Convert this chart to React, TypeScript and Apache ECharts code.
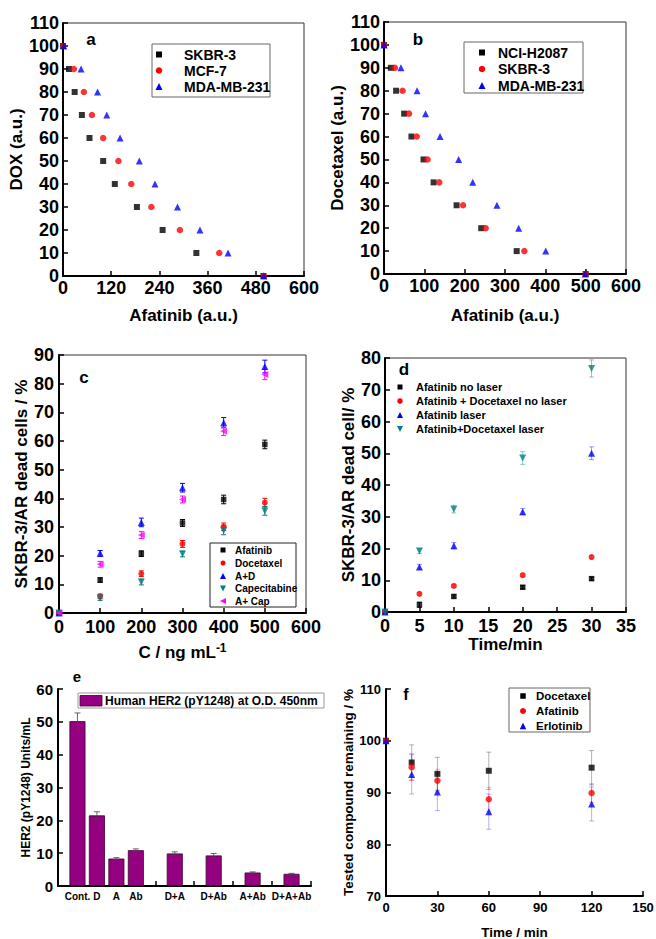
import React, { useEffect, useRef } from 'react';
import * as echarts from 'echarts';

const FONT = '"Liberation Sans", Arial, Helvetica, sans-serif';

// ---------- Panel a ----------
const aDox = [100, 90, 80, 70, 60, 50, 40, 30, 20, 10, 0];
const aSkbr3 = [0, 15, 29, 47, 66, 100, 129, 184, 248, 332, 499];
const aMcf7 = [0, 27, 52, 72, 100, 138, 170, 220, 291, 389, 500];
const aMda231 = [2, 45, 86, 109, 142, 190, 229, 285, 341, 411, 500];
const aXTicks = { min: 0, max: 600, interval: 120 };

// ---------- Panel b ----------
const bDocetaxel = [100, 90, 80, 70, 60, 50, 40, 30, 20, 10, 0];
const bNciH2087 = [0, 17, 30, 50, 68, 98, 123, 180, 241, 329, 500];
const bSkbr3 = [0, 27, 46, 62, 81, 108, 137, 196, 252, 348, 500];
const bMda231 = [0, 42, 82, 103, 139, 185, 220, 280, 334, 401, 499];

// ---------- Panel c ----------
const cConc = [0, 100, 200, 300, 400, 500];
const cAfatinib = [0, 11.5, 20.7, 31.4, 39.6, 58.8];
const cAfatinibErr = [0, 0.8, 1.0, 1.2, 1.5, 1.5];
const cDocetaxel = [0, 5.8, 13.7, 24.1, 30.1, 38.5];
const cDocetaxelErr = [0, 0.8, 1.0, 1.2, 1.3, 1.5];
const cAD = [0, 20.8, 31.6, 43.7, 66.4, 86.0];
const cADErr = [0, 1.0, 1.5, 1.5, 1.8, 2.2];
const cCapecitabine = [0, 5.2, 10.8, 20.6, 28.8, 35.6];
const cCapecitabineErr = [0, 0.8, 1.0, 1.0, 1.5, 1.5];
const cACap = [0, 17.0, 27.2, 39.6, 63.4, 83.2];
const cACapErr = [0, 1.0, 1.2, 1.2, 1.5, 1.8];

// ---------- Panel d ----------
const dTime = [0, 5, 10, 20, 30];
const dAfaNoLaser = [0, 2.3, 4.9, 7.8, 10.5];
const dAfaNoLaserErr = [0, 0.8, 0.5, 0.5, 0.5];
const dAfaDocNoLaser = [0, 5.7, 8.2, 11.6, 17.3];
const dAfaDocNoLaserErr = [0, 0.5, 0.5, 0.5, 0.5];
const dAfaLaser = [0, 14.2, 20.9, 31.6, 50.0];
const dAfaLaserErr = [0, 0.8, 1.0, 1.0, 2.0];
const dAfaDocLaser = [0, 19.2, 32.4, 48.5, 76.7];
const dAfaDocLaserErr = [0, 0.8, 1.2, 2.0, 2.7];

// ---------- Panel e ----------
const eLabels = ['Cont.', 'D', 'A', 'Ab', 'D+A', 'D+Ab', 'A+Ab', 'D+A+Ab'];
const eValues = [50.2, 21.5, 8.35, 10.9, 9.9, 9.3, 4.1, 3.7];
const eErrors = [2.5, 1.1, 0.3, 0.4, 0.5, 0.6, 0.2, 0.15];
const eGapBefore = [false, false, false, false, true, true, true, true];

// ---------- Panel f ----------
const fTime = [0, 15, 30, 60, 120];
const fDocetaxel = [100, 95.8, 93.6, 94.2, 94.8];
const fDocetaxelErr = [0, 3.4, 3.2, 3.6, 3.3];
const fAfatinib = [100, 94.9, 92.3, 88.7, 89.9];
const fAfatinibErr = [0, 2.6, 2.2, 2.3, 1.8];
const fErlotinib = [100, 93.5, 90.1, 86.3, 87.8];
const fErlotinibErr = [0, 3.8, 3.6, 3.4, 3.3];

type Kind = 'square' | 'circle' | 'up' | 'down' | 'left';

const pairs = (xs: number[], ys: number[]) => xs.map((x, i) => [x, ys[i]]);
const triples = (xs: number[], ys: number[], es: number[]) => xs.map((x, i) => [x, ys[i], es[i]]);

function scatter(gi: number, name: string, data: any[], kind: Kind, color: string, size: number) {
  return {
    type: 'scatter',
    name,
    xAxisIndex: gi,
    yAxisIndex: gi,
    data,
    symbol: kind === 'square' ? 'rect' : kind === 'circle' ? 'circle' : 'triangle',
    symbolRotate: kind === 'down' ? 180 : kind === 'left' ? 90 : 0,
    symbolSize: size,
    itemStyle: { color },
    z: 3,
  };
}

function errBars(gi: number, data: any[], color: string, cap: number, width = 1) {
  return {
    type: 'custom',
    xAxisIndex: gi,
    yAxisIndex: gi,
    data,
    z: 2,
    renderItem: (_p: any, api: any) => {
      const x = api.value(0);
      const y = api.value(1);
      const e = api.value(2);
      if (!e) return { type: 'group', children: [] };
      const t = api.coord([x, y + e]);
      const b = api.coord([x, y - e]);
      const style = { stroke: color, lineWidth: width, fill: 'none' };
      return {
        type: 'group',
        children: [
          { type: 'line', shape: { x1: t[0], y1: t[1], x2: b[0], y2: b[1] }, style },
          { type: 'line', shape: { x1: t[0] - cap, y1: t[1], x2: t[0] + cap, y2: t[1] }, style },
          { type: 'line', shape: { x1: b[0] - cap, y1: b[1], x2: b[0] + cap, y2: b[1] }, style },
        ],
      };
    },
  };
}

function marker(kind: Kind, cx: number, cy: number, size: number, color: string) {
  const h = size / 2;
  const style = { fill: color };
  if (kind === 'square') return { type: 'rect', shape: { x: cx - h, y: cy - h, width: size, height: size }, style };
  if (kind === 'circle') return { type: 'circle', shape: { cx, cy, r: h }, style };
  if (kind === 'up') return { type: 'polygon', shape: { points: [[cx, cy - h], [cx + h, cy + h], [cx - h, cy + h]] }, style };
  if (kind === 'down') return { type: 'polygon', shape: { points: [[cx, cy + h], [cx + h, cy - h], [cx - h, cy - h]] }, style };
  return { type: 'polygon', shape: { points: [[cx - h, cy], [cx + h, cy - h], [cx + h, cy + h]] }, style };
}

function txt(text: string, x: number, y: number, size: number, align = 'left') {
  return {
    type: 'text',
    x,
    y,
    style: {
      text,
      fill: '#000',
      fontSize: size,
      fontWeight: 'bold',
      fontFamily: FONT,
      align,
      verticalAlign: 'middle',
      textAlign: align,
      textVerticalAlign: 'middle',
    },
  };
}

function legend(
  box: number[] | null,
  border: string,
  rows: { kind: Kind; color: string; text: string; size: number }[],
  rowY: number[],
  mx: number,
  tx: number,
  fs: number
) {
  const els: any[] = [];
  if (box) {
    els.push({
      type: 'rect',
      shape: { x: box[0], y: box[1], width: box[2], height: box[3] },
      style: { fill: '#fff', stroke: border, lineWidth: 1 },
    });
  }
  rows.forEach((r, i) => {
    els.push(marker(r.kind, mx, rowY[i], r.size, r.color));
    els.push(txt(r.text, tx, rowY[i], fs));
  });
  return els;
}

function axisBase(fs: number, margin: number, nameFs: number, nameGap: number) {
  return {
    axisLine: { show: true, onZero: false, lineStyle: { color: '#000', width: 2 } },
    axisTick: { show: true, inside: true, length: 5, lineStyle: { color: '#000', width: 1.5 } },
    axisLabel: { fontSize: fs, fontWeight: 'bold', color: '#000', fontFamily: FONT, margin },
    splitLine: { show: false },
    nameLocation: 'middle',
    nameGap,
    nameTextStyle: { fontSize: nameFs, fontWeight: 'bold', color: '#000', fontFamily: FONT },
  };
}

export default function App() {
  const ref = useRef<HTMLDivElement>(null);

  useEffect(() => {
    const chart = echarts.init(ref.current!, null, { renderer: 'svg' });

    const boxGrid = { show: true, borderColor: '#333', borderWidth: 1, outerBoundsMode: 'none' };
    const grids = [
      { left: 63, top: 23, width: 241, height: 253, ...boxGrid },
      { left: 384, top: 22, width: 242, height: 252, ...boxGrid },
      { left: 59, top: 355, width: 247, height: 258, ...boxGrid },
      { left: 385, top: 358, width: 241, height: 254, ...boxGrid },
      { left: 58, top: 689, width: 253, height: 197, show: false, outerBoundsMode: 'none' },
      { left: 386, top: 689, width: 257, height: 207, show: false, outerBoundsMode: 'none' },
    ];

    // category slots for panel e
    const eCats: string[] = [''];
    const eBarData: any[] = ['-'];
    const eErrData: any[] = [];
    eLabels.forEach((l, i) => {
      if (eGapBefore[i]) {
        eCats.push('');
        eBarData.push('-');
      }
      eErrData.push([eCats.length, eValues[i], eErrors[i]]);
      eCats.push(l);
      eBarData.push(eValues[i]);
    });
    eCats.push('');
    eBarData.push('-');

    const xAxes = [
      { gridIndex: 0, type: 'value', ...aXTicks, ...axisBase(18, 3, 17, 31), name: 'Afatinib (a.u.)' },
      { gridIndex: 1, type: 'value', min: 0, max: 600, interval: 100, ...axisBase(18, 3, 17, 33), name: 'Afatinib (a.u.)' },
      {
        gridIndex: 2, type: 'value', min: 0, max: 600, interval: 100, ...axisBase(18, 5, 17, 29),
        name: '{m|C / ng mL}{s|-1}',
        nameTextStyle: {
          rich: {
            m: { fontSize: 17, fontWeight: 'bold', color: '#000', fontFamily: FONT, lineHeight: 20 },
            s: { fontSize: 12, fontWeight: 'bold', color: '#000', fontFamily: FONT, verticalAlign: 'top', lineHeight: 20 },
          },
        },
      },
      { gridIndex: 3, type: 'value', min: 0, max: 35, interval: 5, ...axisBase(18, 5, 17, 24), name: 'Time/min' },
      {
        gridIndex: 4, type: 'category', data: eCats, boundaryGap: false,
        ...axisBase(10, 5, 12, 20),
        axisLabel: { fontSize: 10, fontWeight: 'bold', color: '#000', fontFamily: FONT, margin: 5, interval: 0 },
        axisTick: { show: true, inside: true, length: 5, interval: 0, lineStyle: { color: '#000', width: 1.5 } },
      },
      { gridIndex: 5, type: 'value', min: 0, max: 150, interval: 30, ...axisBase(13, 5, 13.5, 29), name: 'Time / min' },
    ];

    const yAxes = [
      { gridIndex: 0, type: 'value', min: 0, max: 110, interval: 10, ...axisBase(18, 4, 17, 33), name: 'DOX (a.u.)' },
      { gridIndex: 1, type: 'value', min: 0, max: 110, interval: 10, ...axisBase(18, 4, 17, 32), name: 'Docetaxel (a.u.)' },
      { gridIndex: 2, type: 'value', min: 0, max: 90, interval: 10, ...axisBase(18, 5, 17, 28), name: 'SKBR-3/AR dead cells / %' },
      { gridIndex: 3, type: 'value', min: 0, max: 80, interval: 10, ...axisBase(18, 4, 17, 25), name: 'SKBR-3/AR dead cell/ %' },
      { gridIndex: 4, type: 'value', min: 0, max: 60, interval: 10, ...axisBase(15, 5, 12, 24), name: 'HER2 (pY1248) Units/mL' },
      { gridIndex: 5, type: 'value', min: 70, max: 110, interval: 10, ...axisBase(13, 5, 13.5, 30), name: 'Tested compound remaining / %' },
    ];

    const series: any[] = [
      // a
      scatter(0, 'SKBR-3', pairs(aSkbr3, aDox), 'square', '#000', 6),
      scatter(0, 'MCF-7', pairs(aMcf7, aDox), 'circle', '#ff0000', 6.5),
      scatter(0, 'MDA-MB-231', pairs(aMda231, aDox), 'up', '#0000ff', 7),
      // b
      scatter(1, 'NCI-H2087', pairs(bNciH2087, bDocetaxel), 'square', '#000', 6),
      scatter(1, 'SKBR-3', pairs(bSkbr3, bDocetaxel), 'circle', '#ff0000', 6.5),
      scatter(1, 'MDA-MB-231', pairs(bMda231, bDocetaxel), 'up', '#0000ff', 7),
      // c
      errBars(2, triples(cConc, cAfatinib, cAfatinibErr), '#000', 2.5),
      errBars(2, triples(cConc, cDocetaxel, cDocetaxelErr), '#ff0000', 2.5),
      errBars(2, triples(cConc, cAD, cADErr), '#0000ff', 2.5),
      errBars(2, triples(cConc, cCapecitabine, cCapecitabineErr), '#008080', 2.5),
      errBars(2, triples(cConc, cACap, cACapErr), '#ff00ff', 2.5),
      scatter(2, 'Afatinib', pairs(cConc, cAfatinib), 'square', '#000', 5.5),
      scatter(2, 'Docetaxel', pairs(cConc, cDocetaxel), 'circle', '#ff0000', 6),
      scatter(2, 'A+D', pairs(cConc, cAD), 'up', '#0000ff', 7),
      scatter(2, 'Capecitabine', pairs(cConc, cCapecitabine), 'down', '#008080', 7),
      scatter(2, 'A+ Cap', pairs(cConc, cACap), 'left', '#ff00ff', 7),
      // d
      errBars(3, triples(dTime, dAfaNoLaser, dAfaNoLaserErr), '#000', 2.5),
      errBars(3, triples(dTime, dAfaDocNoLaser, dAfaDocNoLaserErr), 'rgba(255,0,0,0.4)', 2.5),
      errBars(3, triples(dTime, dAfaLaser, dAfaLaserErr), 'rgba(0,0,255,0.4)', 2.5),
      errBars(3, triples(dTime, dAfaDocLaser, dAfaDocLaserErr), 'rgba(0,128,128,0.45)', 2.5),
      scatter(3, 'Afatinib no laser', pairs(dTime, dAfaNoLaser), 'square', '#000', 5.5),
      scatter(3, 'Afatinib + Docetaxel no laser', pairs(dTime, dAfaDocNoLaser), 'circle', '#ff0000', 6),
      scatter(3, 'Afatinib laser', pairs(dTime, dAfaLaser), 'up', '#0000ff', 7),
      scatter(3, 'Afatinib+Docetaxel laser', pairs(dTime, dAfaDocLaser), 'down', '#008080', 7),
      // e
      {
        type: 'bar',
        name: 'Human HER2 (pY1248) at O.D. 450nm',
        xAxisIndex: 4,
        yAxisIndex: 4,
        data: eBarData,
        barWidth: 16,
        itemStyle: { color: '#94007f', borderColor: '#3c0033', borderWidth: 0.8 },
        z: 2,
      },
      { ...errBars(4, eErrData, '#444', 3, 0.8), z: 4 },
      // f
      errBars(5, triples(fTime, fDocetaxel, fDocetaxelErr), 'rgba(0,0,0,0.3)', 2.5),
      errBars(5, triples(fTime, fAfatinib, fAfatinibErr), 'rgba(255,0,0,0.3)', 2.5),
      errBars(5, triples(fTime, fErlotinib, fErlotinibErr), 'rgba(0,0,255,0.3)', 2.5),
      scatter(5, 'Docetaxel', pairs(fTime, fDocetaxel), 'square', '#000', 6),
      scatter(5, 'Afatinib', pairs(fTime, fAfatinib), 'circle', '#ff0000', 6.5),
      scatter(5, 'Erlotinib', pairs(fTime, fErlotinib), 'up', '#0000ff', 7),
    ];

    const graphics: any[] = [
      // panel letters
      txt('a', 91, 39, 17, 'center'),
      txt('b', 418, 39, 17, 'center'),
      txt('c', 84, 377, 17, 'center'),
      txt('d', 404, 369, 17, 'center'),
      txt('e', 77, 676, 15, 'center'),
      txt('f', 406, 694, 16, 'center'),
      // legends
      ...legend([152, 44, 118, 53], '#666', [
        { kind: 'square', color: '#000', text: 'SKBR-3', size: 6 },
        { kind: 'circle', color: '#ff0000', text: 'MCF-7', size: 6.5 },
        { kind: 'up', color: '#0000ff', text: 'MDA-MB-231', size: 7 },
      ], [54.5, 70.5, 86.5], 159, 184, 14),
      ...legend([464, 42, 119, 51], '#666', [
        { kind: 'square', color: '#000', text: 'NCI-H2087', size: 6 },
        { kind: 'circle', color: '#ff0000', text: 'SKBR-3', size: 6.5 },
        { kind: 'up', color: '#0000ff', text: 'MDA-MB-231', size: 7 },
      ], [52.5, 69, 85.5], 482, 498, 14),
      ...legend([210, 543, 86, 64], '#222', [
        { kind: 'square', color: '#000', text: 'Afatinib', size: 5 },
        { kind: 'circle', color: '#ff0000', text: 'Docetaxel', size: 5 },
        { kind: 'up', color: '#0000ff', text: 'A+D', size: 6 },
        { kind: 'down', color: '#008080', text: 'Capecitabine', size: 6 },
        { kind: 'left', color: '#ff00ff', text: 'A+ Cap', size: 6 },
      ], [550, 563, 576, 588.5, 601], 223, 235, 10),
      ...legend(null, '', [
        { kind: 'square', color: '#000', text: 'Afatinib no laser', size: 5 },
        { kind: 'circle', color: '#ff0000', text: 'Afatinib + Docetaxel no laser', size: 5.5 },
        { kind: 'up', color: '#0000ff', text: 'Afatinib laser', size: 6 },
        { kind: 'down', color: '#008080', text: 'Afatinib+Docetaxel laser', size: 6 },
      ], [387, 401, 415, 429], 400, 416, 11),
      ...legend([509, 688, 81, 44], '#666', [
        { kind: 'square', color: '#000', text: 'Docetaxel', size: 5.5 },
        { kind: 'circle', color: '#ff0000', text: 'Afatinib', size: 6 },
        { kind: 'up', color: '#0000ff', text: 'Erlotinib', size: 6.5 },
      ], [696, 711, 726], 523, 536, 11.5),
      // legend e
      {
        type: 'rect',
        shape: { x: 78, y: 693, width: 246, height: 15 },
        style: { fill: '#fff', stroke: '#999', lineWidth: 1 },
      },
      {
        type: 'rect',
        shape: { x: 80, y: 695.5, width: 22, height: 10.5 },
        style: { fill: '#94007f', stroke: '#3c0033', lineWidth: 0.8 },
      },
      txt('Human HER2 (pY1248) at O.D. 450nm', 105, 700.5, 12),
    ];

    chart.setOption({
      animation: false,
      backgroundColor: '#fff',
      textStyle: { fontFamily: FONT },
      grid: grids,
      xAxis: xAxes,
      yAxis: yAxes,
      series,
      graphic: { elements: graphics },
    });

    return () => chart.dispose();
  }, []);

  return (
    <div
      ref={ref}
      style={{ position: 'absolute', left: 0, top: 0, width: 656, height: 939 }}
    />
  );
}
